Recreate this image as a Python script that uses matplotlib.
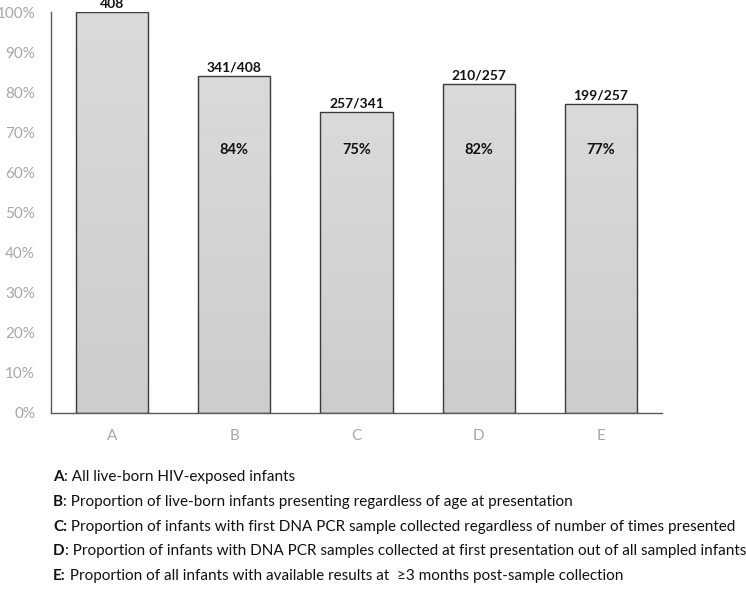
import matplotlib
matplotlib.use("Agg")
import matplotlib.pyplot as plt
import numpy as np
from matplotlib.ticker import PercentFormatter

plt.rcParams['font.family'] = ['Lato', 'DejaVu Sans']

# datos del grafico
categorias = ["A", "B", "C", "D", "E"]
valores = [100, 84, 75, 82, 77]
etiquetas_arriba = ["408", "341/408", "257/341", "210/257", "199/257"]
etiquetas_dentro = ["", "84%", "75%", "82%", "77%"]
leyenda_letra = ["A", "B", "C:", "D", "E:"]
leyenda_texto = [
    ": All live-born HIV-exposed infants",
    ": Proportion of live-born infants presenting regardless of age at presentation",
    " Proportion of infants with first DNA PCR sample collected regardless of number of times presented",
    ": Proportion of infants with DNA PCR samples collected at first presentation out of all sampled infants",
    " Proportion of all infants with available results at  \u22653 months post-sample collection",
]

fig = plt.figure(figsize=(7.46, 5.91), dpi=100)
ax = fig.add_axes([0.0684, 0.3017, 0.819, 0.6775])

x = np.arange(len(categorias))
barras = ax.bar(x, valores, width=0.59, color="none", edgecolor="#3a3a3a",
                linewidth=1.0, zorder=3)

# relleno degradado gris
grad = np.linspace(0, 1, 100).reshape(-1, 1)
cmap = matplotlib.colors.LinearSegmentedColormap.from_list("g", ["#cdcdcd", "#dadada"])
for b in barras:
    x0, y0 = b.get_x(), b.get_y()
    w, h = b.get_width(), b.get_height()
    im = ax.imshow(grad, extent=[x0, x0 + w, y0, y0 + h], aspect="auto",
                   cmap=cmap, origin="lower", zorder=2)
    im.set_clip_path(b)

for i, b in enumerate(barras):
    ax.text(b.get_x() + b.get_width() / 2, valores[i] + 0.6, etiquetas_arriba[i],
            ha="center", va="bottom", fontsize=10, fontweight="bold",
            color="#111111", clip_on=False)
    if etiquetas_dentro[i]:
        ax.text(b.get_x() + b.get_width() / 2, 65.5, etiquetas_dentro[i],
                ha="center", va="center", fontsize=10.5, fontweight="bold",
                color="#111111", zorder=4)

ax.set_xlim(-0.5, 4.5)
ax.set_ylim(0, 100)
ax.set_yticks(range(0, 101, 10))
ax.yaxis.set_major_formatter(PercentFormatter(decimals=0))
ax.set_xticks(x)
ax.set_xticklabels(categorias)
ax.tick_params(axis="both", length=0, labelsize=11, labelcolor="#a6a6a6")
ax.tick_params(axis="y", pad=11.5)
ax.tick_params(axis="x", pad=12)
for s in ["top", "right"]:
    ax.spines[s].set_visible(False)
for s in ["left", "bottom"]:
    ax.spines[s].set_color("#595959")
    ax.spines[s].set_linewidth(1.0)

# leyenda abajo
ys = [476, 501, 526, 550, 575]
fig.canvas.draw()
renderer = fig.canvas.get_renderer()
for letra, texto, yp in zip(leyenda_letra, leyenda_texto, ys):
    yf = 1 - (yp + 5) / 591
    t = fig.text(53 / 746, yf, letra, fontsize=11, fontweight="bold",
                 color="#111111", va="baseline", ha="left")
    ancho = t.get_window_extent(renderer).width / 746
    fig.text(53 / 746 + ancho, yf, texto, fontsize=11, color="#111111",
             va="baseline", ha="left")

fig.savefig("out.png", dpi=100)
